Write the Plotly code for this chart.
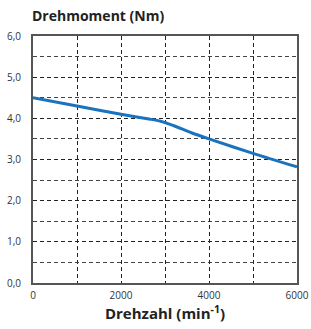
import plotly.graph_objects as go

speed = [0, 1000, 2000, 2600, 2900, 3200, 3600, 4000, 5000, 6000]
torque = [4.5, 4.3, 4.1, 3.99, 3.93, 3.82, 3.65, 3.5, 3.15, 2.82]

y_ticks = [0, 1, 2, 3, 4, 5, 6]
y_text = [f"{v:.1f}".replace(".", ",") for v in y_ticks]
x_ticks = [0, 2000, 4000, 6000]
x_text = ["0", "2000", "4000", "6000"]

font = "Open Sans, DejaVu Sans, sans-serif"

fig = go.Figure(go.Scatter(x=speed, y=torque, mode="lines",
                           line=dict(color="#1a73bf", width=3, shape="spline", smoothing=0.8),
                           hoverinfo="skip"))

fig.update_layout(
    width=311, height=329,
    margin=dict(l=33, r=14, t=36, b=46, autoexpand=False),
    plot_bgcolor="white", paper_bgcolor="white",
    showlegend=False,
    font=dict(family=font, size=10, color="#333"),
    annotations=[dict(text="<b>Drehmoment (Nm)</b>", xref="paper", yref="paper",
                      x=-0.01, y=1.0, yshift=9, xanchor="left", yanchor="bottom",
                      showarrow=False, font=dict(size=14, color="#222", family=font))],
)
grid = dict(showgrid=True, gridcolor="#222", griddash="4px,3px", gridwidth=1)
fig.update_xaxes(range=[0, 6000], tickvals=x_ticks, ticktext=x_text,
                 **grid,
                 minor=dict(dtick=1000, tick0=0, showgrid=True, gridcolor="#222", griddash="4px,3px", gridwidth=1, ticks=""),
                 showline=True, linecolor="#555", linewidth=2, mirror=True,
                 ticks="", zeroline=False, ticklabelstandoff=2, automargin=False,
                 title=dict(text="<b>Drehzahl (min<sup>-1</sup>)</b>", font=dict(size=15, color="#222"), standoff=4))
fig.update_yaxes(range=[0, 6], tickvals=y_ticks, ticktext=y_text,
                 **grid,
                 minor=dict(dtick=0.5, tick0=0, showgrid=True, gridcolor="#444", griddash="4px,3px", gridwidth=1, ticks=""),
                 showline=True, linecolor="#555", linewidth=2, mirror=True,
                 ticks="", zeroline=False, ticklabelstandoff=8, automargin=False)

fig.write_html("out.html", config={"displayModeBar": False},
               post_script="document.body.style.margin='0';")
